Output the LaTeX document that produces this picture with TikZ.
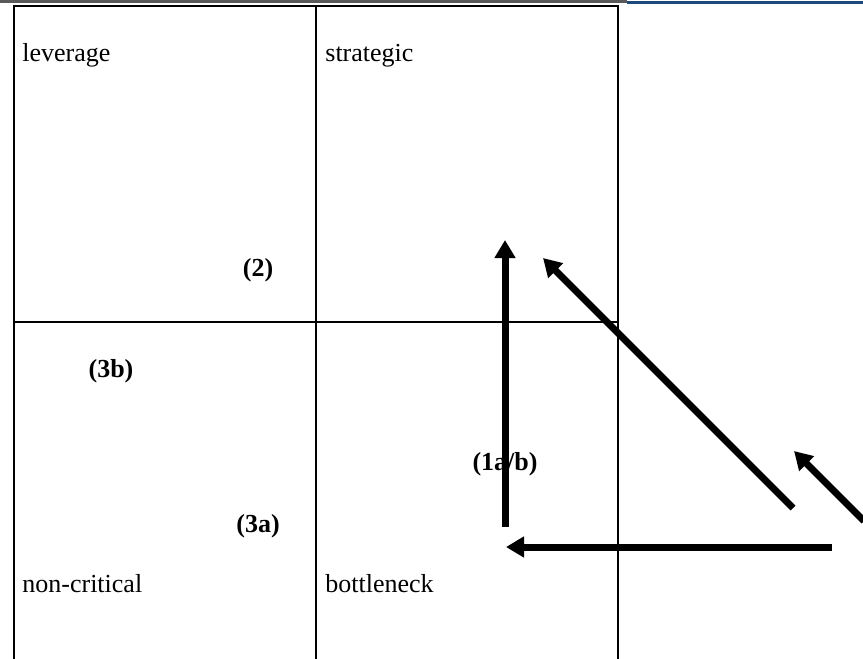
\documentclass[tikz,border=0pt]{standalone}
\usepackage{fontspec}
\setmainfont{Liberation Serif}
\usepackage{xcolor}
\usetikzlibrary{positioning,arrows.meta}
\definecolor{headblue}{RGB}{31,73,125}

\begin{document}
\begin{tikzpicture}[x=0.5pt,y=-0.5pt,
grid/.style={draw=black,line width=1pt},
cellname/.style={anchor=base west,inner sep=0pt,font=\fontsize{13}{15}\selectfont},
step label/.style={inner sep=0pt,font=\fontsize{13}{15}\selectfont\bfseries},
move/.style={-{Triangle[length=9pt,width=10pt]},line width=3.5pt}
]
\useasboundingbox (0,0) rectangle (863,659);
\draw[black!65,line width=1.4pt] (0,1.4) -- (627,1.4);
\draw[headblue,line width=1.6pt] (627,2.4) -- (863,2.4);

\draw[grid] (14,659) -- (14,6) -- (618,6) -- (618,659);
\draw[grid] (316,6) -- (316,659);
\draw[grid] (14,322) -- (618,322);

\node[cellname] (leverage) at (22,61) {leverage};
\node[cellname] (strategic) at (325,61) {strategic};
\node[cellname] (noncritical) at (22,592) {non-critical};
\node[cellname] (bottleneck) at (325,592) {bottleneck};

\node[step label] (s2) at (258,270) {(2)};
\node[step label] (s3b) at (111,371) {(3b)};
\node[step label] (s1ab) at (505,464) {(1a/b)};
\node[step label] (s3a) at (258,526) {(3a)};

\coordinate (up start) at (505,527);
\coordinate (up end) at (505,240);
\coordinate (diag start) at (793,508);
\coordinate (diag end) at (543,258);
\coordinate (left start) at (832,547);
\coordinate (left end) at (506,547);
\coordinate (edge start) at (864,521);
\coordinate (edge end) at (794,451);

\draw[move] (up start) -- (up end);
\draw[move] (diag start) -- (diag end);
\draw[move] (left start) -- (left end);
\draw[move] (edge start) -- (edge end);
\end{tikzpicture}
\end{document}
